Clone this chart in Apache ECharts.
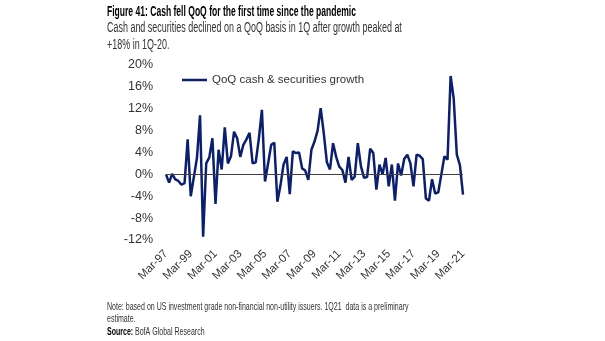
<!DOCTYPE html>
<html><head><meta charset="utf-8">
<script src="https://cdn.jsdelivr.net/npm/echarts@6/dist/echarts.min.js"></script>
<style>html,body{margin:0;padding:0;background:#fff}#c{width:605px;height:341px}</style>
</head><body><div id="c"></div>
<script>
const quarters = (function(){const out=[];const m=['Mar','Jun','Sep','Dec'];for(let y=1997;y<=2021;y++){for(let q=0;q<4;q++){if(y===2021&&q>0)break;out.push(m[q]+'-'+String(y%100).padStart(2,'0'));}}return out;})();
const growth = [
 0, -1.5, 0.1, -0.9, -1.2, -1.9, -1.6, 6.4, -4.0, -0.5,
 3.0, 10.8, -11.4, 2.0, 3.1, 6.6, -5.4, 4.5, 0.9, 8.6,
 2.0, 3.3, 7.8, 6.6, 3.2, 5.4, 6.4, 7.6, 2.0, 2.2,
 6.5, 11.8, -1.3, 2.0, 5.4, 5.8, -5.0, -2.0, 1.8, 3.2,
 -3.6, 4.2, 3.9, 4.0, 1.1, 0.7, -1.0, 4.5, 6.0, 8.0,
 12.1, 7.5, 2.2, 0.9, 5.7, 3.2, 1.4, 0.8, -1.5, 3.2,
 -1.0, -0.4, 5.7, 1.5, -0.6, -0.5, 4.7, 3.9, -2.8, 1.8,
 0.0, 3.0, -2.2, 1.8, -4.8, 2.0, -0.2, 2.8, 3.6, 2.0,
 -2.2, 3.6, 3.4, 2.8, -4.4, -4.8, -0.9, -3.5, -3.3, 0.0,
 3.3, 2.7, 18.0, 13.8, 3.6, 1.7, -3.7
];
const seriesName = 'QoQ cash & securities growth';
const titleText = 'Figure 41: Cash fell QoQ for the first time since the pandemic';
const subLines = ['Cash and securities declined on a QoQ basis in 1Q after growth peaked at', '+18% in 1Q-20.'];
const noteLines = ['Note: based on US investment grade non-financial non-utility issuers. 1Q21  data is a preliminary', 'estimate.'];
const FONT = '"Liberation Sans",Arial,sans-serif';
const chart = echarts.init(document.getElementById('c'));
chart.setOption({
  animation:false,
  textStyle:{fontFamily:FONT},
  grid:{left:166,right:142,top:65,bottom:101,containLabel:false},
  legend:{left:177,top:69,icon:'path://M0,0 L1,0 L1,0.1 L0,0.1 Z',itemWidth:31,itemHeight:2.5,itemGap:4,
    textStyle:{color:'#333',fontSize:11.5,fontFamily:FONT,padding:[0,0,0,-3]},data:[seriesName]},
  xAxis:{type:'category',data:quarters,boundaryGap:false,
    axisLine:{show:false},axisTick:{show:false},
    axisLabel:{interval:7,rotate:45,color:'#333',fontSize:11.5,margin:12,fontFamily:FONT},
    splitLine:{show:false}},
  yAxis:{type:'value',min:-12,max:20,interval:4,
    axisLine:{show:false},axisTick:{show:false},splitLine:{show:false},
    axisLabel:{formatter:'{value}%',color:'#333',fontSize:12.5,margin:13,fontFamily:FONT}},
  series:[{name:seriesName,type:'line',data:growth,symbol:'none',
    lineStyle:{color:'#0b1f6e',width:2.5},itemStyle:{color:'#0b1f6e'},
    markLine:{silent:true,symbol:'none',label:{show:false},lineStyle:{color:'#404040',width:1,type:'solid'},data:[{yAxis:0}]},
    z:3}],
  graphic:[
    {type:'text',x:107,y:4,scaleX:0.57,style:{text:titleText,font:'bold 15px '+FONT,fill:'#000'}},
    {type:'text',x:107,y:21,scaleX:0.64,style:{text:subLines[0],font:'14px '+FONT,fill:'#333'}},
    {type:'text',x:107,y:38,scaleX:0.64,style:{text:subLines[1],font:'14px '+FONT,fill:'#333'}},
    {type:'text',x:107,y:302,scaleX:0.67,style:{text:noteLines[0],font:'10.5px '+FONT,fill:'#333'}},
    {type:'text',x:107,y:314,scaleX:0.67,style:{text:noteLines[1],font:'10.5px '+FONT,fill:'#333'}},
    {type:'text',x:107,y:327,scaleX:0.67,style:{text:'Source:',font:'bold 10.5px '+FONT,fill:'#000'}},
    {type:'text',x:135,y:327,scaleX:0.67,style:{text:'BofA Global Research',font:'10.5px '+FONT,fill:'#333'}}
  ]
});
</script></body></html>
